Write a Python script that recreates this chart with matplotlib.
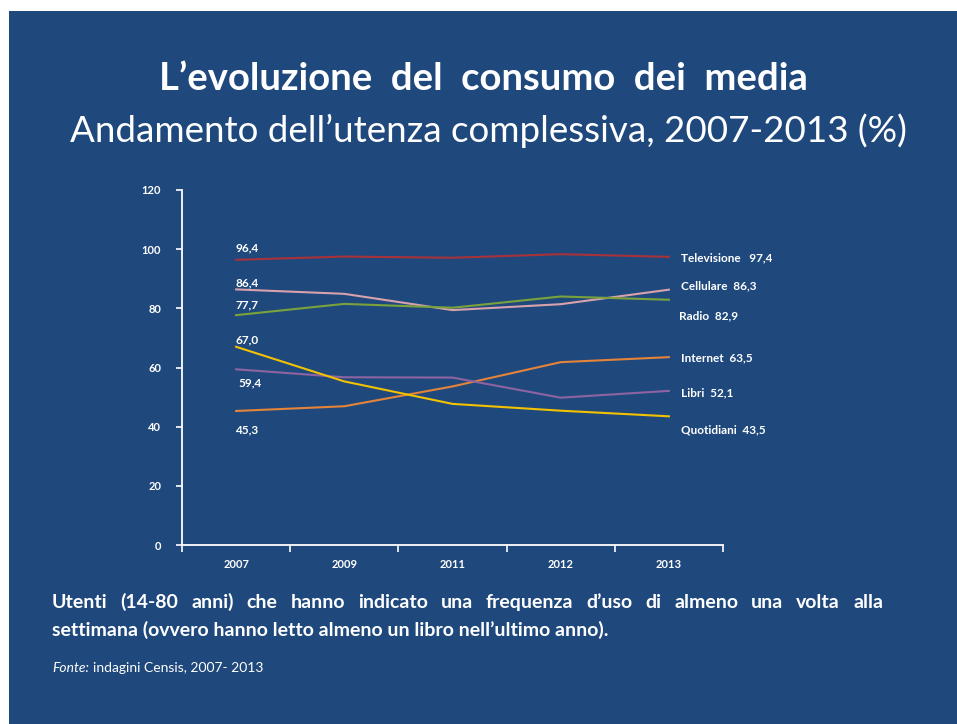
import matplotlib
matplotlib.use("Agg")
import matplotlib.pyplot as plt
from matplotlib.patches import Rectangle

# data
years = ["2007", "2009", "2011", "2012", "2013"]
televisione = [96.4, 97.5, 97.1, 98.3, 97.4]
cellulare = [86.4, 84.9, 79.4, 81.4, 86.3]
radio = [77.7, 81.5, 80.2, 84.0, 82.9]
internet = [45.3, 46.9, 53.6, 61.8, 63.5]
libri = [59.4, 56.7, 56.6, 49.8, 52.1]
quotidiani = [67.0, 55.3, 47.7, 45.4, 43.5]

series_names = ["Televisione", "Cellulare", "Radio", "Internet", "Libri", "Quotidiani"]
series_values = [televisione, cellulare, radio, internet, libri, quotidiani]
colors = ["#a8323a", "#d8a2ad", "#7aa23c", "#e4833a", "#8e63a2", "#f2c200"]

# label offsets (in data units) for the start / end values
start_dy = [4.0, 2.2, 3.4, -6.4, -4.6, 2.3]
start_dx = [0.0, 0.0, 0.0, 0.0, 0.03, 0.0]
end_dy = [-0.4, 1.3, -5.5, -0.3, -0.7, -4.6]
end_dx = [0.11, 0.11, 0.09, 0.11, 0.11, 0.11]
end_gap = ["   ", "  ", "  ", "  ", "  ", "  "]

BG = "#1f497d"
font = "Lato"

fig = plt.figure(figsize=(9.57, 7.24), dpi=100)
fig.patch.set_facecolor("white")
fig.add_artist(Rectangle((9 / 957, 0), 1, 1 - 11 / 724, transform=fig.transFigure,
                         facecolor=BG, edgecolor="none", zorder=-10))

ax = fig.add_axes([182 / 957, 1 - 545 / 724, (723 - 182) / 957, (545 - 190) / 724])
ax.set_facecolor("none")
ax.set_zorder(5)

x = list(range(len(years)))
for name, vals, c, sdy, sdx, edy, edx, gap in zip(series_names, series_values, colors,
                                                  start_dy, start_dx, end_dy, end_dx, end_gap):
    ax.plot(x, vals, color=c, lw=1.5, solid_joinstyle="round")
    ax.text(x[0] - 0.01 + sdx, vals[0] + sdy, f"{vals[0]:.1f}".replace(".", ","),
            color="white", fontsize=8.5, fontweight="bold", family=font,
            ha="left", va="center")
    ax.text(x[-1] + edx, vals[-1] + edy, f"{name}{gap}{vals[-1]:.1f}".replace(".", ","),
            color="white", fontsize=8.5, fontweight="bold", family=font,
            ha="left", va="center", clip_on=False)

ax.set_xlim(-0.5, len(years) - 0.5)
ax.set_ylim(0, 120)
ax.set_yticks(range(0, 121, 20))
ax.set_xticks([i - 0.5 for i in range(len(years) + 1)])
ax.set_xticklabels([])
ax.set_xticks(x, minor=True)
ax.set_xticklabels(years, minor=True)
ax.tick_params(axis="x", which="major", length=5, color="white", width=1.2, direction="out")
ax.tick_params(axis="x", which="minor", length=0, pad=10)
ax.tick_params(axis="y", length=4, color="white", width=1.2, pad=11)
for lab in ax.get_xticklabels(minor=True) + ax.get_yticklabels():
    lab.set_color("white")
    lab.set_fontsize(8)
    lab.set_fontweight("bold")
    lab.set_family(font)
for s in ["top", "right"]:
    ax.spines[s].set_visible(False)
for s in ["left", "bottom"]:
    ax.spines[s].set_color("white")
    ax.spines[s].set_linewidth(1.3)

# titles
fig.text(483 / 957, 1 - 79 / 724, "L\u2019evoluzione  del  consumo  dei  media", color="white",
         fontsize=27.5, fontweight="bold", family=font, ha="center", va="center")
fig.text(488 / 957, 1 - 131 / 724, "Andamento dell\u2019utenza complessiva, 2007-2013 (%)",
         color="white", fontsize=26.5, family=font, ha="center", va="center")

# justified note below the chart
line1 = "Utenti (14-80 anni) che hanno indicato una frequenza d\u2019uso di almeno una volta alla"
line2 = "settimana (ovvero hanno letto almeno un libro nell\u2019ultimo anno)."
x0, x1 = 52, 883
fig.canvas.draw()
renderer = fig.canvas.get_renderer()
words = line1.split(" ")
arts = []
for w in words:
    t = fig.text(0, 1 - 608 / 724, w, color="white", fontsize=14, fontweight="bold",
                 family=font, ha="left", va="baseline")
    arts.append(t)
widths = [t.get_window_extent(renderer).width for t in arts]
gap = (x1 - x0 - sum(widths)) / (len(words) - 1)
pos = x0
for t, wdt in zip(arts, widths):
    t.set_x(pos / 957)
    pos += wdt + gap
fig.text(x0 / 957, 1 - 636 / 724, line2, color="white", fontsize=14, fontweight="bold",
         family=font, ha="left", va="baseline")

fig.text(x0 / 957, 1 - 672 / 724, "Fonte:", color="white", fontsize=10, style="italic",
         family=font, ha="left", va="baseline")
fig.text(93 / 957, 1 - 672 / 724, "indagini Censis, 2007- 2013", color="white", fontsize=10,
         family=font, ha="left", va="baseline")

fig.savefig("out.png", dpi=100, facecolor=fig.get_facecolor())
